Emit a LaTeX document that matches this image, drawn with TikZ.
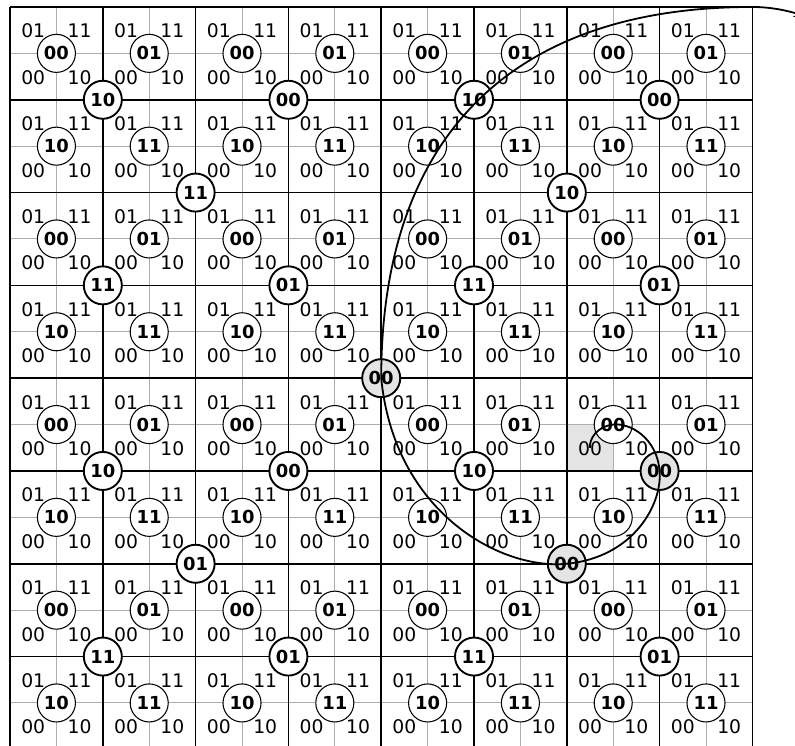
\documentclass[tikz,border=0pt]{standalone}
\usepackage{fontspec}
\setsansfont{DejaVu Sans}
\usetikzlibrary{arrows.meta}
\definecolor{cgrid}{HTML}{ADADAD}
\definecolor{cfill}{HTML}{E4E4E4}
\tikzset{
  every picture/.style={font=\sffamily\fontsize{11.5}{13}\selectfont},
  quad/.style={inner sep=0pt},
  fine/.style={cgrid, line width=0.6pt},
  coarse/.style={black, line width=1pt},
  cellnode/.style={circle, draw, fill=white, line width=0.65pt, minimum size=0.82cm, inner sep=0pt, font=\sffamily\bfseries\fontsize{11}{13}\selectfont},
  vertnode/.style={cellnode, line width=1.15pt},
  spiral/.style={-{Stealth[length=2.5mm]}, line width=1.1pt},
}

\begin{document}
\begin{tikzpicture}[x=2cm, y=-2cm]
  \useasboundingbox (-0.108,-0.075) rectangle (8.459,7.963);
  % the quadrant we zoom into
  \fill[cfill] (6,4.5) rectangle (6.5,5);
  \coordinate (start) at (6.25,4.75);
  \coordinate (corner) at (8,0);
  \coordinate (tip) at (8.57,0.1);
  % grids
  \foreach \i in {0.5,1.5,...,7.5} {
    \draw[fine] (\i,0) -- (\i,8);
    \draw[fine] (0,\i) -- (8,\i);
  }
  \foreach \i in {0,...,8} {
    \draw[coarse] (\i,0) -- (\i,8);
    \draw[coarse] (0,\i) -- (8,\i);
  }
  % cells
  \foreach \col in {0,...,7} \foreach \row in {0,...,7} {
    \node[quad] (q-\col-\row-a) at (\col+0.25,\row+0.26) {01};
    \node[quad] (q-\col-\row-b) at (\col+0.75,\row+0.26) {11};
    \node[quad] (q-\col-\row-c) at (\col+0.25,\row+0.76) {00};
    \node[quad] (q-\col-\row-d) at (\col+0.75,\row+0.76) {10};
    \pgfmathtruncatemacro\hi{mod(\row,2)}
    \pgfmathtruncatemacro\lo{mod(\col,2)}
    \node[cellnode] (c-\col-\row) at (\col+0.5,\row+0.5) {\hi\lo};
  }
  % coarser levels on the grid corners
  \foreach \col/\row/\val/\bg in {1/1/10/white, 3/1/00/white, 5/1/10/white, 7/1/00/white,
      1/3/11/white, 3/3/01/white, 5/3/11/white, 7/3/01/white,
      1/5/10/white, 3/5/00/white, 5/5/10/white, 7/5/00/cfill,
      1/7/11/white, 3/7/01/white, 5/7/11/white, 7/7/01/white,
      2/2/11/white, 6/2/10/white, 2/6/01/white, 6/6/00/cfill,
      4/4/00/cfill}
    \node[vertnode, fill=\bg] (v-\col-\row) at (\col,\row) {\val};
  % spiral out
  \draw[spiral] (start)
    .. controls (6.24,4.66) and (6.32,4.52) .. (c-6-4.center)
    .. controls (6.68,4.48) and (6.97,4.64) .. (v-7-5.center)
    .. controls (7.03,5.36) and (6.72,5.93) .. (v-6-6.center)
    .. controls (5.28,6.07) and (4.14,5.44) .. (v-4-4.center)
    .. controls (4,1.4) and (5.4,0) .. (corner)
    .. controls (8.2,0) and (8.38,0.04) .. (tip);
\end{tikzpicture}
\end{document}
